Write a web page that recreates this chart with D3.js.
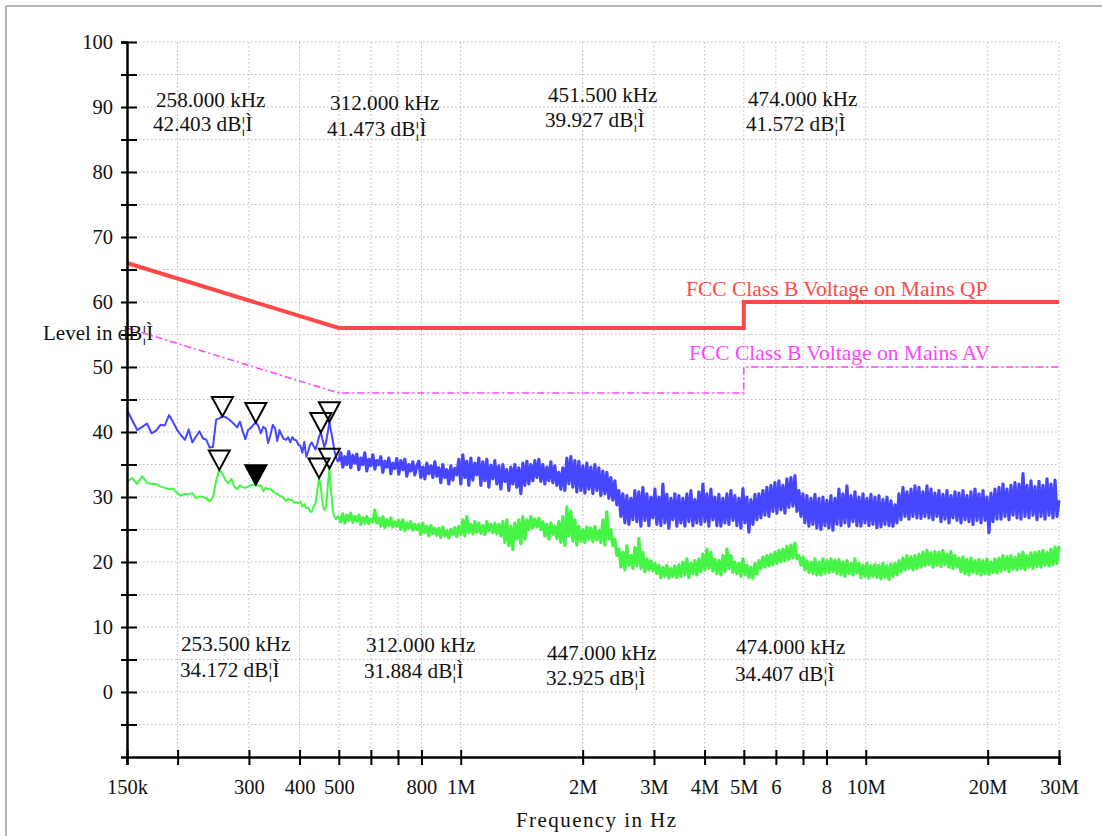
<!DOCTYPE html>
<html>
<head>
<meta charset="utf-8">
<script src="https://cdn.jsdelivr.net/npm/d3@7"></script>
<style>
  body { margin: 0; background: #fff; }
  svg text { font-family: "Liberation Serif", "DejaVu Serif", serif; }
</style>
</head>
<body>
<div id="chartDiv"></div>
<script>
// sweep settings: fine 4.5 kHz steps up to 500 kHz, then the rest to 30 MHz
var lowStartHz = 150e3;
var lowStepHz = 4.5e3;
var highStartHz = 500e3;
var highStopHz = 30e6;

// peak trace (blue), 150 kHz .. 496.5 kHz
var peakLow = [43.4,41.8,40.3,40.8,41.3,39.8,40.2,41.1,41.0,42.6,
  41.5,40.3,39.5,38.8,40.4,38.4,39.3,40.1,39.0,38.8,
  37.6,37.7,41.9,42.1,42.403,42.3,42.0,41.6,41.2,40.7,
  41.6,40.1,38.9,40.3,40.6,41.1,41.473,40.9,39.8,40.8,
  40.5,38.3,39.5,41.1,40.6,38.6,40.3,39.5,38.9,38.8,
  39.2,38.4,39.2,38.8,38.7,38.0,37.9,36.8,38.5,36.2,
  37.0,38.0,38.4,37.8,37.3,38.2,39.3,39.927,38.8,37.7,
  38.4,39.9,41.572,40.1,38.8,37.2,36.2,35.5];

// peak trace (blue), 500 kHz .. 30 MHz
var peakHigh = [35.5,36.8,34.6,36.2,35.0,37.0,34.5,36.4,35.2,36.6,
  34.2,36.0,35.0,36.8,34.0,35.8,34.8,36.5,34.3,35.6,
  35.0,36.2,33.8,35.5,34.6,36.0,33.6,35.2,34.4,35.9,
  33.5,35.6,34.2,35.8,33.2,35.0,34.0,35.4,33.4,34.8,
  35.5,33.0,34.6,32.8,35.2,33.6,34.8,33.0,35.4,33.2,
  34.5,32.2,35.0,33.0,34.2,32.0,34.8,32.6,34.4,33.4,
  35.8,32.0,36.5,33.0,35.5,31.8,36.0,32.6,35.2,33.4,
  36.0,31.8,35.4,32.5,35.8,31.5,34.9,32.8,35.6,32.0,
  34.8,31.2,35.0,32.4,34.2,31.0,34.6,32.0,35.0,31.5,
  34.5,30.5,35.2,31.8,35.5,32.0,35.0,32.5,35.6,33.0,
  35.8,32.4,35.0,32.0,34.6,32.5,35.4,32.2,34.8,31.8,
  33.8,31.2,34.5,31.0,36.0,32.0,36.2,31.5,35.6,30.8,
  35.5,31.0,34.8,30.6,35.2,31.2,34.6,30.5,35.0,31.0,
  34.5,30.2,34.0,30.5,33.8,29.8,33.0,29.5,32.5,28.8,
  31.0,27.0,30.5,26.0,30.2,25.8,29.8,26.5,31.0,26.2,
  30.8,25.5,31.5,26.4,30.5,25.6,30.0,26.8,31.2,25.8,
  30.0,25.6,32.0,26.0,30.4,25.2,29.8,26.5,30.5,25.5,
  30.2,26.0,29.8,25.5,30.5,26.2,31.0,25.6,29.6,26.0,
  30.8,25.8,32.0,26.2,30.5,25.5,31.2,26.5,30.0,25.6,
  30.4,25.5,29.8,26.0,30.5,25.8,31.0,26.4,30.2,25.6,
  29.8,25.2,31.3,26.0,30.0,24.6,29.6,25.8,30.4,26.5,
  30.5,26.8,31.0,27.2,31.5,27.0,31.8,27.8,32.2,27.5,
  32.5,28.0,31.8,27.5,32.8,28.4,33.0,28.6,33.3,27.8,
  31.0,27.0,30.5,26.0,30.2,25.5,29.8,25.8,30.4,25.2,
  29.8,25.0,30.0,25.6,29.5,25.2,30.2,24.9,29.8,25.8,
  31.2,25.6,30.5,26.0,31.7,25.5,30.2,26.2,30.8,25.6,
  30.0,25.5,30.5,26.0,29.8,25.6,30.4,25.8,30.0,25.3,
  30.2,25.4,29.6,25.8,30.0,25.6,29.4,25.5,28.8,26.0,
  30.5,26.5,31.5,27.0,30.8,26.6,31.2,27.0,31.7,26.8,
  31.5,26.7,30.8,27.0,31.7,26.8,31.2,26.5,30.6,27.0,
  31.0,26.2,30.4,26.6,31.0,26.0,30.2,26.8,30.8,26.4,
  30.6,26.0,31.0,26.5,30.2,26.2,30.8,25.8,31.2,26.4,
  30.5,26.0,31.0,26.4,30.0,24.5,30.6,26.2,31.2,26.6,
  31.5,26.6,32.0,27.0,31.2,26.5,31.8,27.2,32.2,26.8,
  32.0,26.6,33.6,27.0,31.8,26.8,32.5,27.2,31.6,26.5,
  32.4,27.0,31.8,26.6,32.8,27.2,32.0,26.8,32.6,27.0,
  29.5];

// average trace (green), 150 kHz .. 496.5 kHz
var avgLow = [32.4,32.9,32.0,33.2,32.2,32.0,32.0,31.6,31.4,31.2,
  31.3,30.6,30.2,30.5,30.4,30.6,29.8,30.1,30.0,29.8,
  29.3,30.0,32.5,34.172,33.6,32.6,32.1,32.8,31.6,31.2,
  31.8,31.5,31.4,31.6,31.8,31.9,31.884,31.7,31.8,30.9,
  31.4,31.2,31.3,30.9,30.6,30.5,30.2,30.1,29.8,29.4,
  29.7,29.6,29.5,29.1,29.2,29.0,29.3,28.5,28.9,28.3,
  28.4,27.8,27.7,28.6,29.0,31.0,32.925,31.5,29.0,28.0,
  28.4,31.5,34.407,31.0,28.0,27.0,26.6,27.0];

// average trace (green), 500 kHz .. 30 MHz
var avgHigh = [27.0,26.2,27.4,26.0,27.2,26.4,27.5,26.1,27.0,26.3,
  27.2,25.8,26.8,26.0,27.0,25.9,26.6,26.2,28.0,26.0,
  26.8,25.5,27.0,25.3,26.5,25.6,26.8,25.4,26.2,25.5,
  26.4,25.0,26.5,24.8,26.0,25.2,26.2,24.9,25.8,25.0,
  25.8,24.2,26.0,24.5,25.5,24.0,25.6,24.4,25.2,24.1,
  25.2,23.8,25.4,24.0,24.8,23.7,25.0,24.2,25.3,23.9,
  25.5,24.2,26.5,24.0,27.0,24.5,25.8,24.3,26.2,24.6,
  26.0,24.4,25.6,24.2,26.2,24.8,25.8,24.5,26.0,24.3,
  25.8,24.0,26.2,23.0,26.5,22.5,25.5,21.9,26.0,23.5,
  26.5,22.8,27.0,23.5,26.5,25.0,27.0,25.2,26.6,25.4,
  26.7,25.0,26.2,24.0,25.8,23.5,26.0,24.2,25.5,23.6,
  26.2,23.0,27.0,22.5,28.5,24.0,27.8,23.2,26.5,22.6,
  25.5,23.2,25.0,23.0,25.4,23.5,25.2,23.1,25.5,23.4,
  24.8,23.0,26.5,22.6,27.7,23.5,25.0,22.5,23.5,21.0,
  22.0,19.2,21.5,18.8,22.5,19.5,21.0,19.0,22.2,19.4,
  23.6,19.0,21.5,18.5,20.5,18.8,20.2,18.6,19.8,18.2,
  19.5,17.6,19.2,17.8,19.5,17.5,19.0,17.8,19.4,17.6,
  19.6,17.8,20.0,18.0,20.5,17.6,19.8,18.2,20.2,18.0,
  20.5,18.5,21.2,18.8,22.0,19.0,21.5,18.6,20.4,18.2,
  20.2,18.0,21.0,18.5,22.0,19.0,21.0,18.4,20.0,18.2,
  19.8,17.8,20.5,18.0,19.5,17.6,19.2,17.5,19.8,18.2,
  20.2,19.0,20.8,19.2,21.0,19.4,21.2,19.6,21.5,19.8,
  21.8,20.0,22.0,20.2,22.4,20.4,22.6,20.6,22.9,20.5,
  21.0,19.5,20.8,18.8,20.2,18.4,20.0,18.2,20.5,18.0,
  20.0,18.0,20.5,18.3,20.2,18.4,20.5,18.5,20.3,18.2,
  20.4,18.0,20.0,17.8,20.2,18.2,19.8,18.0,20.5,18.3,
  19.8,17.6,19.5,17.8,19.8,17.5,19.4,17.8,19.6,17.6,
  19.5,17.4,19.8,17.6,19.4,17.3,19.7,17.8,19.8,18.0,
  20.2,18.5,20.6,18.8,21.0,19.0,20.8,18.8,21.0,19.0,
  21.2,19.2,21.5,19.4,21.8,19.6,21.4,19.2,21.6,19.5,
  21.5,19.3,21.8,19.6,21.2,19.2,21.6,19.0,21.0,19.2,
  20.6,18.5,20.8,18.2,20.4,18.0,20.6,18.4,20.2,18.2,
  20.4,18.0,20.2,18.2,20.5,18.1,20.0,18.4,20.5,18.3,
  20.6,18.6,21.0,18.8,20.8,18.5,21.0,18.9,20.7,18.8,
  21.2,19.0,21.5,18.8,21.0,19.2,21.4,19.0,21.5,19.3,
  21.6,19.2,21.8,19.5,21.5,19.4,22.0,19.6,22.3,19.8,
  22.5];

// limit lines
var limitFreq = [150e3, 500e3, 500e3, 5e6, 5e6, 30e6];
var qpLimit = [66, 56, 56, 56, 60, 60];
var avLimit = [56, 46, 46, 46, 50, 50];

// markers
var peakMarkFreq = [258e3, 312e3, 451.5e3, 474e3];
var peakMarkLevel = [42.403, 41.473, 39.927, 41.572];
var avgMarkFreq = [253.5e3, 312e3, 447e3, 474e3];
var avgMarkLevel = [34.172, 31.884, 32.925, 34.407];
var avgMarkActive = [false, true, false, false];

// axis ticks
var xTickValues = [150e3, 200e3, 300e3, 400e3, 500e3, 600e3, 700e3, 800e3, 1e6,
  2e6, 3e6, 4e6, 5e6, 6e6, 7e6, 8e6, 10e6, 20e6, 30e6];
var xTickLabels = ["150k", "", "300", "400", "500", "", "", "800", "1M",
  "2M", "3M", "4M", "5M", "6", "", "8", "10M", "20M", "30M"];
var yTickValues = d3.range(-5, 101, 5);

// marker readout text positions (two lines each)
var peakLabelPos = [[156, 107, 153, 131], [330, 110, 327, 136], [548, 102, 545, 127], [748, 106, 746, 131]];
var avgLabelPos = [[181, 651, 180, 677], [366, 652, 364, 678], [547, 660, 546, 685], [736, 654, 735, 681]];

function buildTrace(lowVals, highVals) {
  var pts = [];
  for (var i = 0; i < lowVals.length; i++) {
    pts.push({f: lowStartHz + i * lowStepHz, v: lowVals[i]});
  }
  var n = highVals.length;
  for (var k = 0; k < n; k++) {
    pts.push({f: highStartHz * Math.pow(highStopHz / highStartHz, k / (n - 1)), v: highVals[k]});
  }
  return pts;
}

function fmtKHz(f) { return (f / 1000).toFixed(3) + " kHz"; }
function fmtLevel(v) { return v.toFixed(3) + " dB\u00a6\u00cc"; }

function draw() {
  var w = 1102;
  var h = 836;

  var svg = d3.select("#chartDiv")
    .append("svg")
    .attr("width", w)
    .attr("height", h);

  var x = d3.scaleLog().domain([150e3, 30e6]).range([127, 1059]);
  var y = d3.scaleLinear().domain([-10, 100]).range([757, 42]);

  // outer frame
  svg.append("line").attr("x1", 6).attr("y1", 6).attr("x2", w).attr("y2", 6)
    .attr("stroke", "#b4b4b4").attr("stroke-width", 2);
  svg.append("line").attr("x1", 6).attr("y1", 6).attr("x2", 6).attr("y2", h)
    .attr("stroke", "#b4b4b4").attr("stroke-width", 2);

  // grid
  var grid = svg.append("g").attr("stroke", "#b8b8b8").attr("stroke-width", 1)
    .attr("stroke-dasharray", "1.5,2.5");
  grid.selectAll("line.h")
    .data(yTickValues)
    .enter()
    .append("line")
    .attr("x1", x(150e3)).attr("x2", x(30e6))
    .attr("y1", function(d) { return y(d); })
    .attr("y2", function(d) { return y(d); });
  grid.selectAll("line.v")
    .data(xTickValues.slice(1))
    .enter()
    .append("line")
    .attr("y1", y(100)).attr("y2", y(-10))
    .attr("x1", function(d) { return x(d); })
    .attr("x2", function(d) { return x(d); });

  // limit lines
  var limLine = d3.line()
    .x(function(d, i) { return x(limitFreq[i]); })
    .y(function(d) { return y(d); });
  svg.append("path").attr("d", limLine(avLimit))
    .attr("fill", "none").attr("stroke", "#ff44ff").attr("stroke-width", 1.5)
    .attr("stroke-dasharray", "7,3,2,3");
  svg.append("path").attr("d", limLine(qpLimit))
    .attr("fill", "none").attr("stroke", "#ff4848").attr("stroke-width", 4);

  // traces: the fine-step part is thin, the dense part is drawn a bit heavier
  var traceLine = d3.line()
    .x(function(d) { return x(d.f); })
    .y(function(d) { return y(d.v); });
  function drawTrace(lowVals, highVals, colour) {
    var pts = buildTrace(lowVals, highVals);
    var cut = lowVals.length;
    svg.append("path").attr("d", traceLine(pts.slice(0, cut + 1)))
      .attr("fill", "none").attr("stroke", colour).attr("stroke-width", 2)
      .attr("stroke-linejoin", "round");
    svg.append("path").attr("d", traceLine(pts.slice(cut)))
      .attr("fill", "none").attr("stroke", colour).attr("stroke-width", 3.2)
      .attr("stroke-linejoin", "round");
  }
  drawTrace(peakLow, peakHigh, "#4646ff");
  drawTrace(avgLow, avgHigh, "#46f446");

  // marker triangles, tip on the data point
  function tri(fx, vy) {
    var px = x(fx), py = y(vy);
    return "M" + px + "," + py + "L" + (px - 10.5) + "," + (py - 19.5) +
      "L" + (px + 10.5) + "," + (py - 19.5) + "Z";
  }
  svg.selectAll("path.pm")
    .data(peakMarkLevel)
    .enter()
    .append("path")
    .attr("d", function(d, i) { return tri(peakMarkFreq[i], d); })
    .attr("fill", "none").attr("stroke", "#000").attr("stroke-width", 2);
  svg.selectAll("path.am")
    .data(avgMarkLevel)
    .enter()
    .append("path")
    .attr("d", function(d, i) { return tri(avgMarkFreq[i], d); })
    .attr("fill", function(d, i) { return avgMarkActive[i] ? "#000" : "none"; })
    .attr("stroke", "#000").attr("stroke-width", 2);

  // axes
  var xAxis = d3.axisBottom(x).tickValues(xTickValues)
    .tickFormat(function(d, i) { return xTickLabels[i]; })
    .tickSizeOuter(0).tickSize(8).tickPadding(14);
  var gx = svg.append("g").attr("transform", "translate(0," + y(-10) + ")").call(xAxis);
  gx.select(".domain").attr("stroke", "#000").attr("stroke-width", 2.5);
  gx.selectAll(".tick line").attr("y1", -7).attr("stroke", "#000").attr("stroke-width", 2);
  gx.selectAll(".tick text").attr("font-size", 20.5).attr("fill", "#111")
    .attr("font-family", "Liberation Serif, serif");

  var yAxis = d3.axisLeft(y).tickValues(yTickValues)
    .tickFormat(function(d) { return d % 10 === 0 ? d : ""; })
    .tickSizeOuter(0).tickSize(6).tickPadding(8);
  var gy = svg.append("g").attr("transform", "translate(" + x(150e3) + ",0)").call(yAxis);
  gy.select(".domain").attr("stroke", "#000").attr("stroke-width", 2.5);
  gy.selectAll(".tick line").attr("x2", -6).attr("x1", 10).attr("stroke", "#000").attr("stroke-width", 2);
  gy.selectAll(".tick text").attr("font-size", 20.5).attr("fill", "#111")
    .attr("font-family", "Liberation Serif, serif");

  // marker readouts
  var readout = svg.append("g").attr("font-size", 21.2).attr("fill", "#111");
  peakLabelPos.forEach(function(p, i) {
    readout.append("text").attr("x", p[0]).attr("y", p[1]).text(fmtKHz(peakMarkFreq[i]));
    readout.append("text").attr("x", p[2]).attr("y", p[3]).text(fmtLevel(peakMarkLevel[i]));
  });
  avgLabelPos.forEach(function(p, i) {
    readout.append("text").attr("x", p[0]).attr("y", p[1]).text(fmtKHz(avgMarkFreq[i]));
    readout.append("text").attr("x", p[2]).attr("y", p[3]).text(fmtLevel(avgMarkLevel[i]));
  });

  // limit names
  svg.append("text").attr("x", 686).attr("y", 296).attr("font-size", 21.5)
    .attr("fill", "#ff4848").text("FCC Class B Voltage on Mains QP");
  svg.append("text").attr("x", 689).attr("y", 360).attr("font-size", 21.5)
    .attr("fill", "#ff44ff").text("FCC Class B Voltage on Mains AV");

  // axis titles
  svg.append("text").attr("x", 43).attr("y", 340).attr("font-size", 21)
    .attr("fill", "#111").text("Level in dB\u00a6\u00cc");
  svg.append("text").attr("x", 516).attr("y", 827).attr("font-size", 21)
    .attr("textLength", 160).attr("lengthAdjust", "spacing")
    .attr("fill", "#111").text("Frequency in Hz");
}

draw();
</script>
</body>
</html>
